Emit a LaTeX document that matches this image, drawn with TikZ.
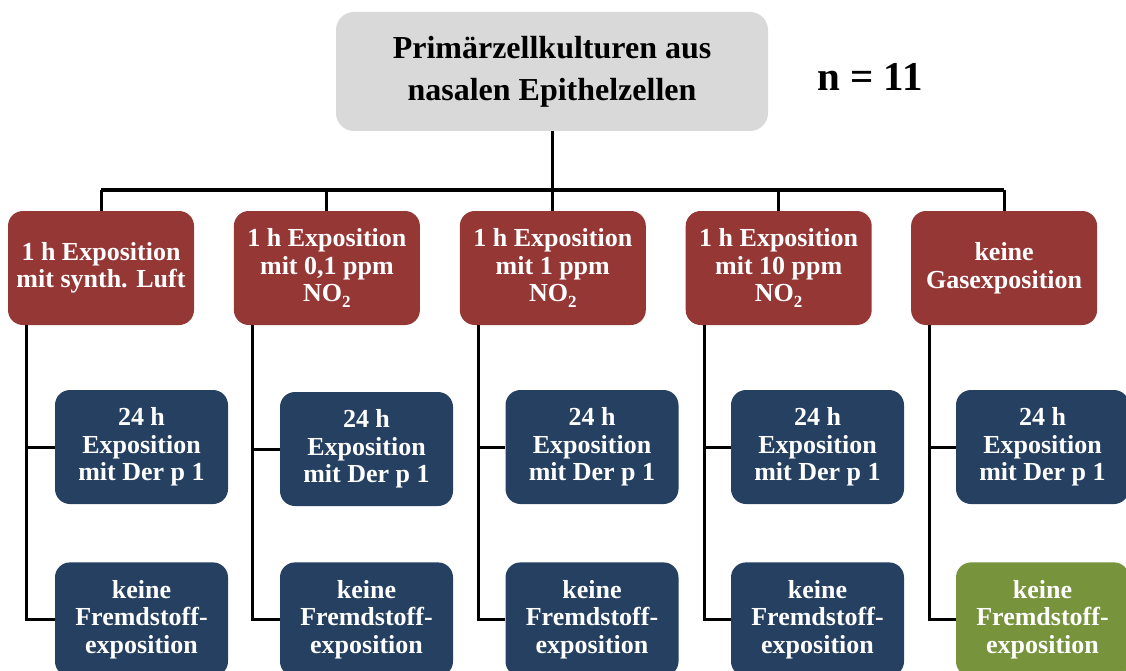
\documentclass[tikz,border=0pt]{standalone}
\usepackage{fontspec}
\setmainfont{Liberation Serif}
\usetikzlibrary{positioning}
\definecolor{gasred}{HTML}{953735}
\definecolor{derblue}{HTML}{254061}
\definecolor{ctrlgreen}{HTML}{77933C}
\definecolor{cellgrey}{HTML}{D9D9D9}
\tikzset{
	cellbox/.style={fill=cellgrey, rounded corners=18pt, minimum width=432pt, minimum height=119pt, inner sep=0pt, align=center, font=\fontsize{32}{42}\selectfont\bfseries},
	gasbox/.style={fill=gasred, text=white, rounded corners=15pt, minimum width=186pt, minimum height=114pt, inner sep=0pt, align=center, font=\fontsize{26}{27.5}\selectfont\bfseries},
	derbox/.style={gasbox, fill=derblue, minimum width=173pt},
	nobox/.style={derbox},
	ctrlbox/.style={derbox, fill=ctrlgreen},
	link/.style={line width=3pt}
}
\newcommand{\gaslabel}[1]{1 h Exposition\\mit #1}
\newcommand{\notwo}{NO\raisebox{-0.45ex}{\fontsize{17}{17}\selectfont 2}}

\begin{document}
\begin{tikzpicture}[x=1pt, y=-1pt]

	\useasboundingbox (0,0) rectangle (1126,671);

	\node[cellbox] (cells) at (552,71.5) {Primärzellkulturen aus\\nasalen Epithelzellen};
	\node[font=\fontsize{41}{41}\selectfont\bfseries] (count) at (870,77) {n = 11};

	\node[gasbox] (gas1) at (101,268) {\gaslabel{synth. Luft}};
	\node[gasbox, right=39.5pt of gas1] (gas2) {\gaslabel{0,1 ppm}\\\notwo};
	\node[gasbox, right=39.5pt of gas2] (gas3) {\gaslabel{1 ppm}\\\notwo};
	\node[gasbox, right=39.5pt of gas3] (gas4) {\gaslabel{10 ppm}\\\notwo};
	\node[gasbox, right=39pt of gas4] (gas5) {keine\\Gasexposition};

	\node[derbox] (der1) at (141.5,447) {24 h\\Exposition\\mit Der p 1};
	\node[derbox] (der2) at (366.5,449) {24 h\\Exposition\\mit Der p 1};
	\node[derbox] (der3) at (592,447) {24 h\\Exposition\\mit Der p 1};
	\node[derbox] (der4) at (817.5,447) {24 h\\Exposition\\mit Der p 1};
	\node[derbox] (der5) at (1042.5,447) {24 h\\Exposition\\mit Der p 1};

	\node[nobox, below=58pt of der1] (no1) {keine\\Fremdstoff-\\exposition};
	\node[nobox, below=56pt of der2] (no2) {keine\\Fremdstoff-\\exposition};
	\node[nobox, below=58pt of der3] (no3) {keine\\Fremdstoff-\\exposition};
	\node[nobox, below=58pt of der4] (no4) {keine\\Fremdstoff-\\exposition};
	\node[ctrlbox, below=58pt of der5] (no5) {keine\\Fremdstoff-\\exposition};

	\coordinate (bus) at (552,190);
	\draw[link] (cells.south) -- (bus);
	\draw[link] (gas1.north |- bus) -- (gas5.north |- bus);
	\draw[link] (gas1.north |- bus) -- (gas1.north);
	\draw[link] (gas2.north |- bus) -- (gas2.north);
	\draw[link] (gas3.north |- bus) -- (gas3.north);
	\draw[link] (gas4.north |- bus) -- (gas4.north);
	\draw[link] (gas5.north |- bus) -- (gas5.north);

	\draw[link] ([xshift=19pt]gas1.south west) |- (no1.west);
	\draw[link] ([xshift=19pt]gas1.south west |- der1.west) -- (der1.west);
	\draw[link] ([xshift=19pt]gas2.south west) |- (no2.west);
	\draw[link] ([xshift=19pt]gas2.south west |- der2.west) -- (der2.west);
	\draw[link] ([xshift=19pt]gas3.south west) |- (no3.west);
	\draw[link] ([xshift=19pt]gas3.south west |- der3.west) -- (der3.west);
	\draw[link] ([xshift=19pt]gas4.south west) |- (no4.west);
	\draw[link] ([xshift=19pt]gas4.south west |- der4.west) -- (der4.west);
	\draw[link] ([xshift=19pt]gas5.south west) |- (no5.west);
	\draw[link] ([xshift=19pt]gas5.south west |- der5.west) -- (der5.west);

\end{tikzpicture}
\end{document}
